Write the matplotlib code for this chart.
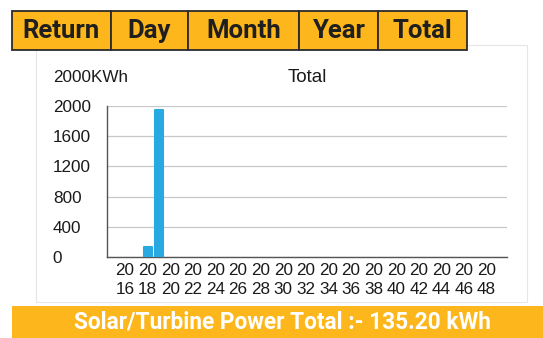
import matplotlib.pyplot as plt
from matplotlib.patches import Rectangle

# yearly energy, kWh
years = list(range(2016, 2050))
energy = [0, 0, 135.2, 1950] + [0] * 30
tick_years = list(range(2016, 2050, 2))
tabs = ["Return", "Day", "Month", "Year", "Total"]
tab_edges = [12, 111, 188, 299, 378, 467]
total_text = "Solar/Turbine Power Total :- 135.20 kWh"

W, H = 543, 338
ORANGE = "#FDB61B"
BLUE = "#29A9E1"

fig = plt.figure(figsize=(W / 100, H / 100), dpi=100)
fig.patch.set_facecolor("white")

def px(x, y):
    # pixel coords (from top-left) -> figure fraction
    return x / W, 1 - y / H

# white card behind the chart
x0, y0 = px(36, 302)
card = Rectangle((x0, y0), (527 - 36) / W, (302 - 45) / H, transform=fig.transFigure,
                 facecolor="white", edgecolor="#e6e6e6", lw=0.8, zorder=0)
fig.add_artist(card)

# tab row
for i, name in enumerate(tabs):
    a, b = tab_edges[i], tab_edges[i + 1]
    rx, ry = px(a, 50)
    fig.add_artist(Rectangle((rx, ry), (b - a) / W, 39 / H, transform=fig.transFigure,
                             facecolor=ORANGE, edgecolor="#2b2b2b", lw=1.3, zorder=3))
    tx, ty = px((a + b) / 2, 31)
    fig.text(tx, ty, name, ha="center", va="center", fontsize=18.5, fontweight="bold",
             color="#1f1f1f", family="Roboto", zorder=4)

# footer bar
fx, fy = px(12, 338)
fig.add_artist(Rectangle((fx, fy), (W - 12) / W, 32 / H, transform=fig.transFigure,
                         facecolor=ORANGE, edgecolor="none", zorder=3))
tx, ty = px(282, 322)
fig.text(tx, ty, total_text, ha="center", va="center", fontsize=16.3, fontweight="bold",
         color="white", family="Roboto", zorder=4)

# chart
ax = fig.add_axes([107 / W, 1 - 257 / H, 400 / W, 151 / H])
ax.set_facecolor("none")
bars = ax.bar(years, energy, width=0.72, color=BLUE, edgecolor=BLUE, linewidth=1.5, zorder=3)
for b, v in zip(bars, energy):
    b.set_joinstyle("round")
    if v == 0:
        b.set_linewidth(0)

ax.set_xlim(2014.4, 2049.8)
ax.set_ylim(0, 2000)
ax.set_yticks([0, 400, 800, 1200, 1600, 2000])
ax.set_xticks(tick_years)
ax.set_xticklabels([f"{str(y)[:2]}\n{str(y)[2:]}" for y in tick_years], linespacing=1.4)
ax.grid(axis="y", color="#c8c8c8", lw=0.9)
ax.set_axisbelow(True)

for s in ["top", "right"]:
    ax.spines[s].set_visible(False)
for s in ["left", "bottom"]:
    ax.spines[s].set_color("#555555")
    ax.spines[s].set_linewidth(1.0)

ax.tick_params(axis="both", length=0, labelsize=12.3, labelcolor="#1a1a1a")
ax.tick_params(axis="x", pad=4)
ax.tick_params(axis="y", pad=39)
for lab in ax.get_yticklabels():
    lab.set_horizontalalignment("left")
for lab in ax.get_xticklabels() + ax.get_yticklabels():
    lab.set_family("Liberation Sans")

lx, ly = px(53, 78)
fig.text(lx, ly, "2000KWh", ha="left", va="center", fontsize=12.3, color="#1a1a1a",
         family="Liberation Sans")
tx, ty = px(307, 77)
fig.text(tx, ty, "Total", ha="center", va="center", fontsize=13.5, color="#1a1a1a",
         family="Liberation Sans")

fig.savefig("out.png", dpi=100)
